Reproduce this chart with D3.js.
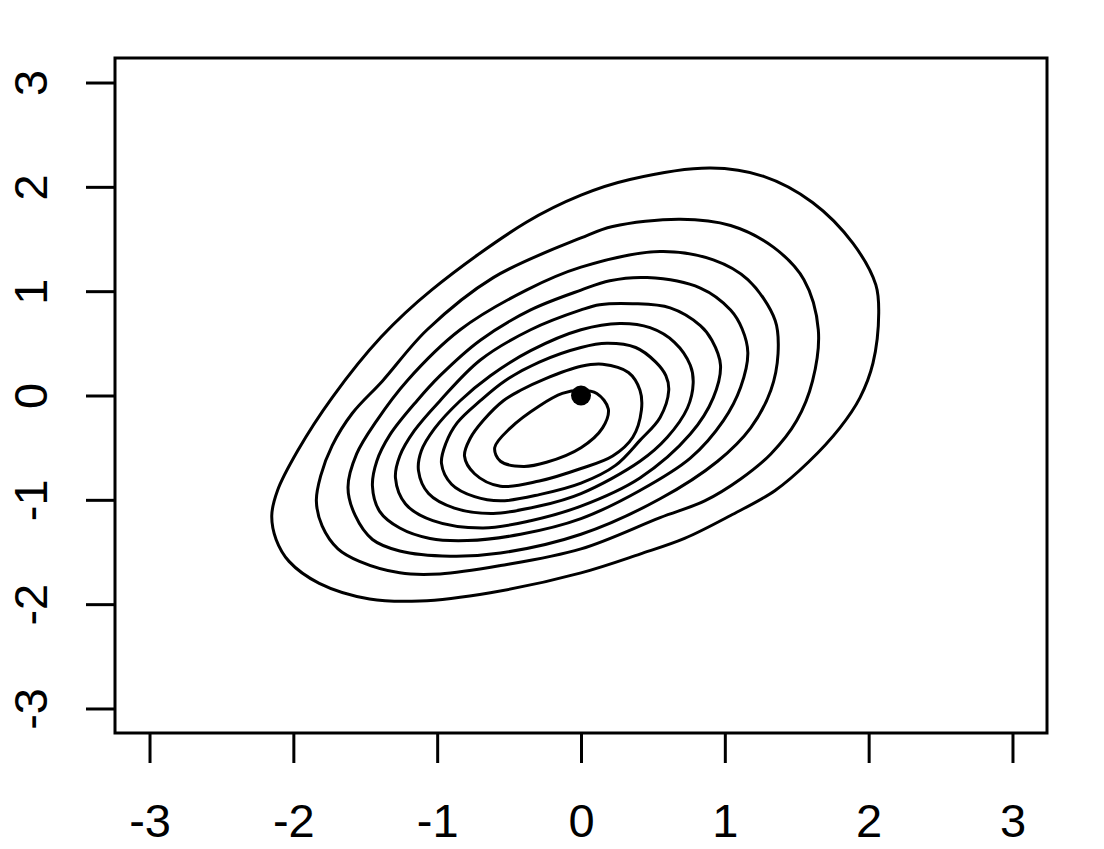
<!DOCTYPE html>
<html>
<head>
<meta charset="utf-8">
<script src="https://cdn.jsdelivr.net/npm/d3@7"></script>
<style>
  body { margin: 0; background: #fff; }
  text { font-family: "Liberation Sans", Arial, Helvetica, sans-serif; }
</style>
</head>
<body>
<script>
// Contour plot of a bivariate density, outermost contour first.
// Each contour is a list of [x, y] points.
var contour1 = [[-2.15,-1.15],[-2.12,-1.38],[-2.03,-1.59],[-1.82,-1.80],[-1.47,-1.95],[-1.12,-1.97],[-0.63,-1.89],
  [0.0,-1.70],[0.41,-1.52],[0.72,-1.37],[1.04,-1.15],[1.35,-0.91],[1.58,-0.64],[1.80,-0.31],[1.94,-0.02],
  [2.03,0.31],[2.07,0.79],[2.05,1.06],[1.89,1.46],[1.61,1.85],[1.27,2.10],[0.90,2.18],[0.34,2.07],[0.0,1.92],
  [-0.38,1.66],[-1.04,1.01],[-1.39,0.56],[-1.73,-0.02],[-1.97,-0.53],[-2.11,-0.91]];
var contour2 = [[-1.84,-1.01],[-1.80,-1.25],[-1.69,-1.47],[-1.54,-1.59],[-1.26,-1.70],[-0.98,-1.71],[-0.56,-1.63],
  [0.0,-1.47],[0.55,-1.17],[0.86,-1.01],[1.11,-0.80],[1.32,-0.56],[1.50,-0.24],[1.61,0.14],[1.65,0.63],[1.55,1.11],
  [1.34,1.42],[1.04,1.63],[0.69,1.69],[0.22,1.62],[0.0,1.51],[-0.61,1.13],[-1.07,0.63],[-1.38,0.14],[-1.59,-0.17],
  [-1.73,-0.48],[-1.81,-0.77]];
var contour3 = [[-1.62,-0.88],[-1.57,-1.15],[-1.45,-1.38],[-1.26,-1.49],[-0.91,-1.54],[-0.56,-1.51],[0.0,-1.33],
  [0.55,-0.99],[0.95,-0.63],[1.18,-0.31],[1.32,0.05],[1.37,0.40],[1.35,0.72],[1.16,1.11],[0.92,1.30],
  [0.55,1.38],[0.0,1.23],[-0.38,1.01],[-0.84,0.63],[-1.21,0.14],[-1.42,-0.24],[-1.56,-0.56]];
var contour4 = [[-1.45,-0.87],[-1.40,-1.11],[-1.26,-1.27],[-1.05,-1.37],[-0.79,-1.39],[-0.42,-1.33],[0.0,-1.18],
  [0.41,-0.91],[0.76,-0.60],[0.99,-0.24],[1.11,0.08],[1.16,0.41],[1.12,0.64],[1.04,0.82],[0.83,1.03],[0.46,1.13],
  [0.20,1.10],[0.0,1.01],[-0.35,0.82],[-0.70,0.53],[-0.98,0.19],[-1.14,-0.05],[-1.33,-0.38],[-1.42,-0.63]];
var contour5 = [[-1.29,-0.79],[-1.22,-1.04],[-1.03,-1.20],[-0.68,-1.27],[-0.35,-1.20],[0.0,-1.06],[0.41,-0.79],
  [0.76,-0.37],[0.92,-0.02],[0.97,0.29],[0.91,0.53],[0.83,0.67],[0.62,0.84],[0.36,0.88],[0.13,0.87],[0.0,0.82],
  [-0.35,0.63],[-0.70,0.34],[-0.98,-0.05],[-1.16,-0.34],[-1.26,-0.58]];
var contour6 = [[-1.13,-0.72],[-1.06,-0.94],[-0.88,-1.08],[-0.61,-1.13],[-0.29,-1.06],[0.0,-0.94],[0.41,-0.63],
  [0.60,-0.40],[0.74,-0.12],[0.78,0.12],[0.76,0.29],[0.65,0.51],[0.48,0.65],[0.27,0.69],[0.0,0.63],[-0.35,0.43],
  [-0.63,0.19],[-0.84,-0.05],[-1.02,-0.32],[-1.11,-0.53]];
var contour7 = [[-0.97,-0.65],[-0.90,-0.85],[-0.74,-0.97],[-0.56,-1.01],[-0.29,-0.95],[0.0,-0.84],[0.24,-0.67],
  [0.41,-0.43],[0.55,-0.21],[0.61,0.05],[0.59,0.19],[0.52,0.32],[0.38,0.46],[0.18,0.50],[0.0,0.46],[-0.29,0.32],
  [-0.53,0.14],[-0.70,-0.05],[-0.86,-0.26],[-0.94,-0.46]];
var contour8 = [[-0.81,-0.58],[-0.74,-0.75],[-0.56,-0.87],[-0.29,-0.82],[0.0,-0.70],[0.22,-0.58],[0.36,-0.40],
  [0.42,-0.14],[0.41,0.05],[0.33,0.22],[0.15,0.30],[0.0,0.28],[-0.25,0.16],[-0.42,0.05],[-0.54,-0.05],
  [-0.68,-0.24],[-0.77,-0.41]];
var contour9 = [[-0.60,-0.50],[-0.56,-0.63],[-0.40,-0.68],[-0.24,-0.64],[0.0,-0.50],[0.15,-0.31],[0.19,-0.13],
  [0.11,0.02],[0.0,0.05],[-0.13,0.02],[-0.29,-0.10],[-0.49,-0.31]];
var contours = [contour1, contour2, contour3, contour4, contour5, contour6, contour7, contour8, contour9];

// the marked point
var pointX = [0];
var pointY = [0];

var xTicks = [-3, -2, -1, 0, 1, 2, 3];
var yTicks = [-3, -2, -1, 0, 1, 2, 3];

var width = 1104, height = 849;
var margin = {left: 115, right: 57, top: 58, bottom: 116};

var x = d3.scaleLinear().domain([-3.24, 3.24]).range([margin.left, width - margin.right]);
var y = d3.scaleLinear().domain([-3.235, 3.235]).range([height - margin.bottom, margin.top]);

var svg = d3.select('body').append('svg')
  .attr('width', width)
  .attr('height', height);

// contour lines
var line = d3.line()
  .x(function(d) { return x(d[0]); })
  .y(function(d) { return y(d[1]); })
  .curve(d3.curveCatmullRomClosed.alpha(0.5));

svg.append('g').selectAll('path')
  .data(contours)
  .enter().append('path')
  .attr('d', line)
  .attr('fill', 'none')
  .attr('stroke', '#000')
  .attr('stroke-width', 3);

// the point
svg.selectAll('circle')
  .data(pointX)
  .enter().append('circle')
  .attr('cx', function(d) { return x(d); })
  .attr('cy', function(d, i) { return y(pointY[i]); })
  .attr('r', 10)
  .attr('fill', '#000');

// box round the plot
svg.append('rect')
  .attr('x', margin.left)
  .attr('y', margin.top)
  .attr('width', width - margin.left - margin.right)
  .attr('height', height - margin.top - margin.bottom)
  .attr('fill', 'none')
  .attr('stroke', '#000')
  .attr('stroke-width', 3);

// x axis, R style: ticks and labels only
var xAxis = svg.append('g')
  .attr('transform', 'translate(0,' + (height - margin.bottom) + ')')
  .call(d3.axisBottom(x).tickValues(xTicks).tickSize(30).tickSizeOuter(0)
    .tickFormat(function(d) { return d < 0 ? '-' + Math.abs(d) : d; }));
xAxis.select('.domain').remove();
xAxis.selectAll('line').attr('stroke', '#000').attr('stroke-width', 3);
xAxis.selectAll('text')
  .attr('fill', '#000')
  .attr('dy', null)
  .attr('y', 104)
  .style('font-size', '47px');

// y axis, labels turned to read upward
var yAxis = svg.append('g')
  .attr('transform', 'translate(' + margin.left + ',0)')
  .call(d3.axisLeft(y).tickValues(yTicks).tickSize(29).tickSizeOuter(0)
    .tickFormat(function(d) { return d < 0 ? '-' + Math.abs(d) : d; }));
yAxis.select('.domain').remove();
yAxis.selectAll('line').attr('stroke', '#000').attr('stroke-width', 3);
yAxis.selectAll('text')
  .attr('fill', '#000')
  .attr('x', null)
  .attr('dy', null)
  .attr('text-anchor', 'middle')
  .attr('transform', 'translate(-68,0) rotate(-90)')
  .style('font-size', '47px');
</script>
</body>
</html>
